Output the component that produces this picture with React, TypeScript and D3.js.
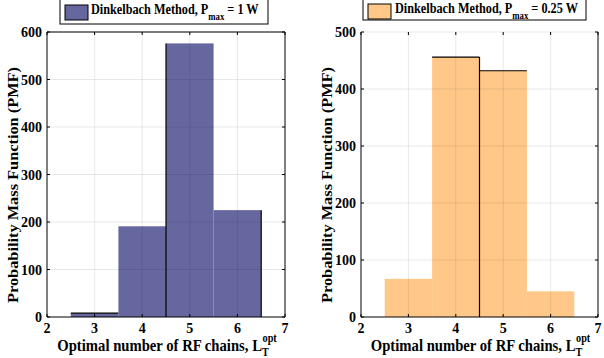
import * as d3 from "d3";

const binCenters = [3, 4, 5, 6];
const countsHigh = [8, 191, 576, 225]; // Pmax = 1 W
const countsLow = [67, 456, 432, 45]; // Pmax = 0.25 W
const xTicks = [2, 3, 4, 5, 6, 7];
const yTicksHigh = [0, 100, 200, 300, 400, 500, 600];
const yTicksLow = [0, 100, 200, 300, 400, 500];

const FONT = "Liberation Serif, Times New Roman, DejaVu Serif, serif";
const SQ = "spacingAndGlyphs";

type PanelProps = {
  left: number;
  right: number;
  counts: number[];
  yMax: number;
  yTicks: number[];
  color: string;
  topBox: boolean;
  edges: { x1: number; x2: number; y1: number; y2: number }[];
};

function Panel({ left, right, counts, yMax, yTicks, color, topBox, edges }: PanelProps) {
  const top = 32;
  const bottom = 317;
  const x = d3.scaleLinear().domain([2, 7]).range([left, right]);
  const y = d3.scaleLinear().domain([0, yMax]).range([bottom, top]);
  const cx = (left + right) / 2;

  return (
    <g>
      {binCenters.map((c, i) => (
        <rect
          key={i}
          x={x(c - 0.5)}
          y={y(counts[i])}
          width={x(c + 0.5) - x(c - 0.5)}
          height={y(0) - y(counts[i])}
          fill={color}
        />
      ))}
      {/* grid, faintly visible through bars */}
      {xTicks.slice(1, -1).map((t) => (
        <line key={"gx" + t} x1={x(t)} x2={x(t)} y1={top} y2={bottom} stroke="#000" strokeOpacity={0.09} />
      ))}
      {yTicks.slice(1).map((t) => (
        <line key={"gy" + t} x1={left} x2={right} y1={y(t)} y2={y(t)} stroke="#000" strokeOpacity={0.09} />
      ))}
      {edges.map((e, i) => (
        <line key={"e" + i} x1={x(e.x1)} x2={x(e.x2)} y1={y(e.y1)} y2={y(e.y2)} stroke="#000" strokeWidth={1.2} />
      ))}
      {/* axes frame */}
      <line x1={left} x2={right} y1={bottom} y2={bottom} stroke="#000" />
      <line x1={left} x2={left} y1={top} y2={bottom} stroke="#000" />
      <line x1={right} x2={right} y1={top} y2={bottom} stroke="#000" />
      {topBox && <line x1={left} x2={right} y1={top} y2={top} stroke="#000" />}
      {xTicks.map((t) => (
        <g key={"xt" + t}>
          <line x1={x(t)} x2={x(t)} y1={bottom} y2={bottom - 3} stroke="#000" />
          <line x1={x(t)} x2={x(t)} y1={top} y2={top + 3} stroke="#000" />
          <text x={x(t)} y={333} textAnchor="middle" fontSize={14} fontWeight="bold">
            {t}
          </text>
        </g>
      ))}
      {yTicks.map((t) => (
        <g key={"yt" + t}>
          <line x1={left} x2={left + 3} y1={y(t)} y2={y(t)} stroke="#000" />
          <line x1={right} x2={right - 3} y1={y(t)} y2={y(t)} stroke="#000" />
          <text x={left - 5} y={y(t) + 5} textAnchor="end" fontSize={14} fontWeight="bold">
            {t}
          </text>
        </g>
      ))}
      <text
        transform={`translate(${left - 29},185) rotate(-90)`}
        textAnchor="middle"
        fontSize={15.5}
        fontWeight="bold"
        textLength={236}
        lengthAdjust={SQ}
      >
        Probability Mass Function (PMF)
      </text>
      <g transform={`translate(${cx + 1},351) scale(0.89,1)`}>
        <text x={0} y={0} textAnchor="middle" fontSize={16.5} fontWeight="bold">
          Optimal number of RF chains, L
          <tspan fontSize={11.5} dy={5}>T</tspan>
          <tspan fontSize={11.5} dx={-7} dy={-14}>opt</tspan>
        </text>
      </g>
    </g>
  );
}

type LegendProps = {
  x0: number;
  x1: number;
  yBottom: number;
  color: string;
  textX: number;
  baseY: number;
  label: string;
};

function Legend(p: LegendProps) {
  return (
    <g>
      <rect x={p.x0} y={-2} width={p.x1 - p.x0} height={p.yBottom + 2} fill="#fff" stroke="#000" strokeWidth={1} />
      <rect x={p.x0 + 5} y={p.baseY - 9} width={23} height={15} fill={p.color} stroke="#000" strokeWidth={1} />
      <g transform={`translate(${p.textX},${p.baseY}) scale(0.875,1)`}>
        <text x={0} y={0} fontSize={14} fontWeight="bold">
          Dinkelbach Method, P
          <tspan fontSize={10} dy={6}>max</tspan>
          <tspan dy={-6}>{` = ${p.label}`}</tspan>
        </text>
      </g>
    </g>
  );
}

export default function App() {
  const purple = "#6767a0";
  const orange = "#ffc888";
  return (
    <svg
      width={604}
      height={358}
      style={{ position: "absolute", left: 0, top: 0, background: "#fff", fontFamily: FONT }}
    >
      <rect width={604} height={358} fill="#fff" />
      <Panel
        left={47}
        right={285}
        counts={countsHigh}
        yMax={600}
        yTicks={yTicksHigh}
        color={purple}
        topBox={true}
        edges={[
          { x1: 2.5, x2: 3.5, y1: countsHigh[0], y2: countsHigh[0] },
          { x1: 4.5, x2: 4.5, y1: 0, y2: countsHigh[2] },
          { x1: 6.5, x2: 6.5, y1: 0, y2: countsHigh[3] },
        ]}
      />
      <Panel
        left={361}
        right={598}
        counts={countsLow}
        yMax={500}
        yTicks={yTicksLow}
        color={orange}
        topBox={false}
        edges={[
          { x1: 3.5, x2: 4.5, y1: countsLow[1], y2: countsLow[1] },
          { x1: 4.5, x2: 5.5, y1: countsLow[2], y2: countsLow[2] },
          { x1: 4.5, x2: 4.5, y1: 0, y2: countsLow[1] },
        ]}
      />
      <Legend x0={60} x1={268} yBottom={24} color={purple} textX={91} baseY={14} label="1 W" />
      <Legend x0={363} x1={586} yBottom={20} color={orange} textX={395} baseY={13} label="0.25 W" />
    </svg>
  );
}
